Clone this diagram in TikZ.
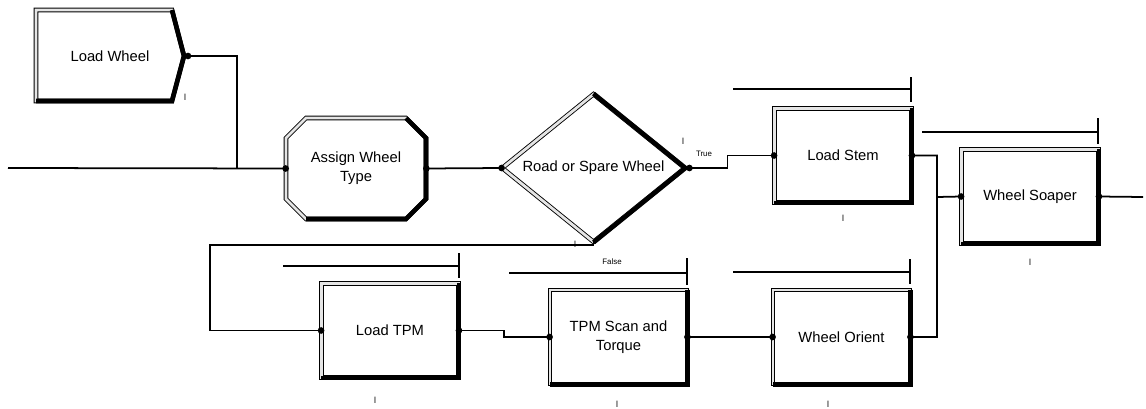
\documentclass[tikz,border=0pt]{standalone}
\usepackage{fontspec}
\setmainfont{Liberation Sans}
\usetikzlibrary{shapes.geometric}

\tikzset{
  bevel/.style={draw, line width=0.5pt, double=gray!20, double distance=1.6pt},
  dark edge/.style={line width=2.6pt, line join=miter},
  module/.style={bevel, rectangle, minimum width=2.74cm, minimum height=1.88cm,
    align=center, font=\fontsize{8.4}{11}\selectfont},
  decide/.style={bevel, diamond, aspect=1.24, inner sep=0pt, minimum width=3.66cm,
    minimum height=2.96cm, font=\fontsize{8.4}{11}\selectfont},
  label/.style={align=center, font=\fontsize{8.4}{11}\selectfont},
  conn/.style={line width=1pt},
  queue/.style={line width=1.1pt},
  counter/.style={inner sep=0pt, font=\fontsize{5}{6}\selectfont},
  tag/.style={inner sep=0pt, font=\fontsize{4.5}{5}\selectfont},
}

\begin{document}
\begin{tikzpicture}[x=0.02cm, y=-0.02cm]
  \useasboundingbox (0,0) rectangle (1146,409);

  % create and assign
  \draw[bevel] (36,10) -- (172,10) -- (184,56) -- (172,101) -- (36,101) -- cycle;
  \draw[dark edge] (172,10) -- (184,56) -- (172,101) -- (36,101);
  \node[label] (lw) at (110,56) {Load Wheel};
  \coordinate (lw out) at (188,56);

  \draw[bevel] (306,118) -- (406,118) -- (426,138) -- (426,199) -- (406,219)
    -- (306,219) -- (286,199) -- (286,138) -- cycle;
  \draw[dark edge] (406,118) -- (426,138) -- (426,199) -- (406,219) -- (306,219);
  \node[label, minimum width=2.8cm, minimum height=2cm, inner sep=0pt]
    (aw) at (356,168.5) {Assign Wheel\\Type};

  % decide
  \node[decide] (rs) at (593.5,168) {Road or Spare Wheel};
  \draw[dark edge] (rs.north) -- (rs.east) -- (rs.south);

  % processes
  \node[module] (ls) at (843,155.5) {Load Stem};
  \node[module] (ws) at (1030,196.5) {Wheel Soaper};
  \node[module] (lt) at (390,330.5) {Load TPM};
  \node[module] (ts) at (618.5,337) {TPM Scan and\\Torque};
  \node[module] (wo) at (841.5,337) {Wheel Orient};
  \foreach \n in {ls,ws,lt,ts,wo}
    \draw[dark edge] (\n.north east) -- (\n.south east) -- (\n.south west);

  % queues
  \foreach \xa/\xb/\y/\ya/\yb in {733/911/89/77/102, 922/1098/132/118/144,
      283/459/266/253/278, 509/687/273/258/285, 733/910/272/259/284} {
    \draw[queue] (\xa,\y) -- (\xb,\y);
    \draw[queue] (\xb,\ya) -- (\xb,\yb);
  }

  % connections
  \coordinate (src) at (8,168);
  \coordinate (join a) at (237,168);
  \coordinate (fork) at (210,245);
  \coordinate (join b) at (937,197);
  \coordinate (sink) at (1143,197);
  \draw[conn] (src) -- (aw.west);
  \draw[conn] (lw out) -| (join a);
  \draw[conn] (aw.east) -- (rs.west);
  \draw[conn] (rs.east) -- ++(42,0) |- (ls.west);
  \draw[conn] (rs.south) |- (fork) |- (lt.west);
  \draw[conn] (lt.east) -- ++(45,0) |- (ts.west);
  \draw[conn] (ts.east) -- (wo.west);
  \draw[conn] (ls.east) -| (join b) -- (ws.west);
  \draw[conn] (wo.east) -| (join b);
  \draw[conn] (ws.east) -- (sink);

  % ports
  \foreach \p in {lw out, aw.west, aw.east, rs.west, ls.west, ls.east, ws.west,
      ws.east, lt.west, lt.east, ts.west, ts.east, wo.west, wo.east}
    \fill (\p) circle (1.9pt);
  \fill ([xshift=0.08cm]rs.east) circle (1.9pt);

  % labels and counters
  \node[tag] (true) at (704,154) {True};
  \node[tag] (false) at (612,262) {False};
  \foreach \x/\y in {185/97, 683/141, 575/244, 843/218, 1030/262, 375/400,
      617/404, 828/404}
    \node[counter] at (\x,\y) {l};
\end{tikzpicture}
\end{document}
